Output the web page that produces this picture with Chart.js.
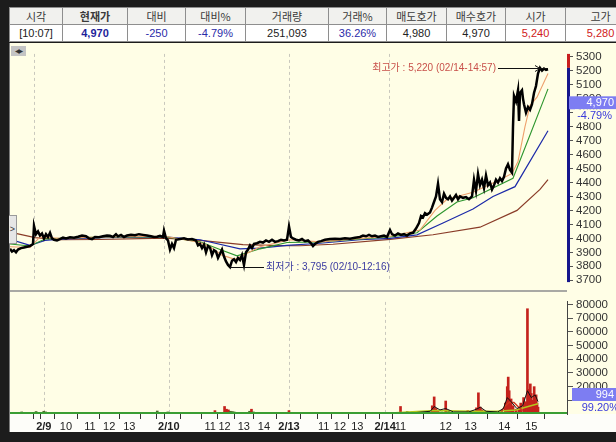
<!DOCTYPE html>
<html>
<head>
<meta charset="utf-8">
<script src="https://cdn.jsdelivr.net/npm/chart.js@4.4.1/dist/chart.umd.min.js"></script>
<style>
  html, body { margin: 0; padding: 0; }
  body { width: 616px; height: 442px; background: #1c1c1c; position: relative; overflow: hidden;
         font-family: "Liberation Sans", "Noto Sans CJK KR", sans-serif; }
  #quote { position: absolute; left: 9px; top: 7px; border-collapse: collapse; table-layout: fixed; width: 626px; }
  #quote td { border: 1px solid #8e8e8e; height: 16px; padding: 0; text-align: center; font-size: 11px;
              line-height: 16px; white-space: nowrap; overflow: hidden; }
  #quote tr.head td { background: #f1f1ee; color: #3a3a3a; font-family: "Noto Sans CJK KR", sans-serif; }
  #quote tr.vals td { background: #fff; color: #222; }
  #quote .bold { font-weight: bold; color: #222; }
  #quote .cur { font-weight: bold; color: #1e1e9a !important; }
  #quote .blue { color: #2a2aa8 !important; }
  #quote .red { color: #d02020 !important; }
  #panel { position: absolute; left: 9px; top: 43px; width: 607px; height: 389px; background: #fffee6;
           border-left: 1px solid #7a7a7a; box-sizing: border-box; }
  canvas { position: absolute; }
  #priceChart { left: 10px; top: 44px; }
  #volChart { left: 10px; top: 292px; }
  #sep { position: absolute; left: 10px; top: 290px; width: 557px; height: 2px; background: #a9a9a4; }
  #nav { position: absolute; left: 11px; top: 46px; width: 15px; height: 10px; background: #c4c4c4;
         font-family: "DejaVu Sans", sans-serif; font-size: 6px; line-height: 10px; color: #333; text-align: center; letter-spacing: -1px; }
  #tab { position: absolute; left: 9px; top: 215px; width: 7px; height: 27px; background: #e6e6e6;
         border: 1px solid #9a9a9a; border-left: none; font-size: 9px; line-height: 26px; color: #333; text-align: center; }
</style>
</head>
<body>
<table id="quote">
  <colgroup>
    <col style="width:53px"><col style="width:65px"><col style="width:58px"><col style="width:60px"><col style="width:83px">
    <col style="width:58px"><col style="width:60px"><col style="width:59px"><col style="width:60px"><col style="width:70px">
  </colgroup>
  <tr class="head">
    <td>시각</td><td class="bold">현재가</td><td>대비</td><td>대비%</td><td>거래량</td>
    <td>거래%</td><td>매도호가</td><td>매수호가</td><td>시가</td><td>고가</td>
  </tr>
  <tr class="vals">
    <td>[10:07]</td><td class="cur">4,970</td><td class="blue">-250</td><td class="blue">-4.79%</td><td>251,093</td>
    <td class="blue">36.26%</td><td>4,980</td><td>4,970</td><td class="red">5,240</td><td class="red">5,280</td>
  </tr>
</table>
<div id="panel"></div>
<canvas id="priceChart" width="606" height="248"></canvas>
<canvas id="volChart" width="606" height="140"></canvas>
<div id="sep"></div>
<div id="nav">◀▶</div>
<div id="tab">&gt;</div>

<script>
// DATA (bar index of the minute chart)
const priceBars = [
  0,2,4,6,8,11,14,17,20,23,
  24,26,28,30,32,34,36,38,40,42,
  44,47,50,53,56,60,64,68,72,76,
  79,82,85,89,93,97,100,103,106,108,
  111,114,117,121,125,129,133,137,141,144,
  147,150,153,154,156,158,160,162,164,166,
  170,174,178,182,186,188,190,192,194,196,
  198,200,202,204,206,208,210,212,214,216,
  218,220,222,224,226,228,230,232,234,236,
  238,240,242,244,247,250,253,256,259,262,
  265,268,271,274,277,279,281,283,286,289,
  292,295,298,301,303,305,308,311,315,320,
  325,330,335,340,345,350,353,356,359,362,
  365,368,371,374,377,380,382,385,388,391,
  394,397,400,403,406,409,411,413,415,417,
  420,422,424,426,428,430,432,434,436,438,
  440,442,444,446,448,450,453,456,459,462,
  464,466,468,470,472,474,476,478,480,482,
  484,486,488,490,492,494,496,498,500,501,
  502,503,504,506,508,509,510,512,513,514,
  516,518,520,522,524,526,528,530,532,534,
  536,538
];
const priceVals = [
  3925,3905,3915,3900,3920,3930,3935,3940,3945,3960,
  4090,4030,4050,4020,4035,4000,4030,4010,4040,4000,
  3990,3985,3995,4005,4000,4008,4005,4012,4020,4015,
  4000,3995,4010,4008,4015,4020,4018,4010,4030,4015,
  4025,4010,4020,4025,4022,4030,4025,4020,4015,4010,
  4012,4018,4010,4055,4000,3985,3920,3960,3930,3990,
  3995,4000,3992,3995,3985,3950,3960,3930,3955,3900,
  3945,3935,3880,3915,3905,3860,3890,3920,3870,3835,
  3810,3795,3840,3850,3830,3860,3845,3880,3810,3900,
  3920,3950,3930,3960,3965,3975,3970,3985,3975,3990,
  3975,3980,3990,3985,3990,4085,4010,4000,3990,3985,
  3995,3980,3985,3965,3945,3960,3975,3980,3990,3995,
  3998,3995,4000,3998,4005,4010,4020,4015,4025,4015,
  4020,4010,4015,4020,4010,4060,4030,4020,4035,4025,
  4030,4020,4035,4040,4070,4110,4160,4150,4180,4170,
  4185,4220,4260,4300,4390,4280,4260,4320,4290,4280,
  4300,4270,4290,4310,4280,4300,4290,4295,4280,4300,
  4420,4340,4460,4380,4420,4360,4450,4380,4400,4350,
  4380,4420,4400,4430,4410,4440,4500,4530,4490,4480,
  4470,4800,5020,4980,5060,4840,5040,5060,5000,4960,
  4900,4940,4920,4960,5040,5090,5180,5220,5200,5215,
  5205,5210
];

const ma5Bars = [0,20,30,50,90,155,190,200,212,225,250,280,310,350,380,410,425,437,463,490,502,508,515,520,527,538];
const ma5Vals = [3940,3935,4010,4000,4010,4015,3970,3940,3880,3850,3940,3990,3975,4000,4015,4060,4200,4280,4330,4420,4465,4550,4800,4950,5010,5180];
const ma10Bars = [0,20,35,50,90,155,190,210,227,250,277,310,350,380,407,427,447,463,503,520,538];
const ma10Vals = [3960,3945,3995,4000,4010,4012,3975,3920,3875,3925,3970,3975,3995,4010,4040,4160,4260,4290,4430,4740,5070];
const ma20Bars = [0,20,35,50,90,155,190,230,250,277,310,350,380,407,433,463,483,505,538];
const ma20Vals = [3993,3950,3985,3995,4005,4010,3990,3925,3930,3950,3965,3990,4000,4025,4110,4210,4300,4370,4770];
const ma60Bars = [0,25,50,90,130,155,190,233,270,290,323,380,423,470,507,530,538];
const ma60Vals = [4045,4005,3990,3992,3998,4002,3985,3955,3948,3947,3958,3993,4026,4080,4200,4350,4420];

const volBars = [
  1,3,9,16,18,24,26,32,38,45,
  52,65,85,100,115,138,142,148,153,160,
  170,185,200,202,212,214,216,218,220,222,
  225,230,238,240,242,255,265,270,275,279,
  285,300,320,340,360,385,395,402,408,415,
  422,428,430,432,434,438,442,445,450,455,
  460,465,468,474,476,478,480,485,490,495,
  500,504,506,507,508,510,512,515,518,520,
  523,525,527,528,530,531,533,534,536,537,
  538
];
const volVals = [
  1500,800,1200,1800,1000,2000,1500,600,500,700,
  500,400,500,600,400,1200,2200,800,1500,800,
  500,600,1200,2500,5500,3500,3000,2000,1800,1500,
  1200,1000,2000,3500,1500,600,1000,1200,800,2500,
  500,400,500,400,600,700,5500,1800,1500,1200,
  1000,6000,12500,4000,2500,1500,9500,2000,1200,1000,
  800,2500,1500,4500,15500,5000,3000,1500,1500,1200,
  2500,8000,20000,27000,17000,11000,6000,3500,4000,8000,
  12000,9000,77000,18000,22000,15000,10000,20000,14000,8000,
  5000
];
const volMaBars = [410,426,430,436,442,450,466,474,478,484,496,502,506,510,516,522,527,531,535,538];
const volMaVals = [1000,2000,5500,3000,4000,1500,1500,3500,5000,2000,1500,4000,12000,9000,4000,6000,17000,12000,14000,9000];
const volHumpBars = [500,504,508,513,518,522];
const volHumpVals = [2000,6000,8500,8500,5000,2500];
const volLongBars = [385,430,470,495,515,525,538];
const volLongVals = [800,2500,2000,2000,3000,5000,7500];

const priceTicks = [3700,3800,3900,4000,4100,4200,4300,4400,4500,4600,4700,4800,4900,5000,5100,5200,5300];
const volTicks = [10000,20000,30000,40000,50000,60000,70000,80000];
const tickBars = [17,24,47,72,92,113,137,145,154,178,197,212,232,253,279,303,315,332,350,367,379,395,442,468,503,531];
const tickLabels = ['','2/9','10','11','12','13','','','2/10','','11','12','13','14','2/13','','11','12','13','','2/14','11','12','13','14','15'];
const dayBars = [24,154,279,379];

const prevClose = 5220;
const curPrice = 4970;
const curRate = '-4.79%';
const lastVol = 994;
const volRate = '99.20%';
const highVal = 5220, highBar = 530, highTime = '02/14-14:57';
const lowVal = 3795, lowBar = 220, lowTime = '02/10-12:16';

const paneColor = '#fffee6';

function toPoints(bars, vals) {
  return bars.map((b, i) => ({ x: b, y: vals[i] }));
}
function fmt(n) {
  return n.toLocaleString('en-US');
}

// dashed separators at the start of every day
const dayLines = {
  id: 'dayLines',
  beforeDatasetsDraw(chart) {
    const { ctx, chartArea, scales } = chart;
    ctx.save();
    ctx.strokeStyle = '#c9c8bd';
    ctx.lineWidth = 1;
    ctx.setLineDash([3, 3]);
    dayBars.forEach(b => {
      const x = Math.round(scales.x.getPixelForValue(b)) + 0.5;
      ctx.beginPath();
      ctx.moveTo(x, chartArea.top);
      ctx.lineTo(x, chartArea.bottom);
      ctx.stroke();
    });
    ctx.restore();
  }
};

// axis colour bar, current price box, high / low notes
const priceDecor = {
  id: 'priceDecor',
  afterDraw(chart) {
    const { ctx, chartArea, scales } = chart;
    const y = scales.y, x = scales.x;
    ctx.save();
    const yPrev = y.getPixelForValue(prevClose);
    ctx.fillStyle = '#c81e1e';
    ctx.fillRect(chartArea.right, chartArea.top, 3, yPrev - chartArea.top);
    ctx.fillStyle = '#16168c';
    ctx.fillRect(chartArea.right, yPrev, 3, chartArea.bottom - yPrev);

    const yc = y.getPixelForValue(curPrice);
    ctx.fillStyle = '#7d7df2';
    ctx.fillRect(chartArea.right + 2, yc - 6.5, 60, 13);
    // rate sits on a plain patch, hiding the tick label under it
    ctx.fillStyle = paneColor;
    ctx.fillRect(chartArea.right + 8, yc + 6.5, 60, 13);
    ctx.font = '11px "Liberation Sans"';
    ctx.textAlign = 'right';
    ctx.textBaseline = 'middle';
    ctx.fillStyle = '#ffffff';
    ctx.fillText(fmt(curPrice), chart.width - 2, yc + 0.5);
    ctx.fillStyle = '#3a3adb';
    ctx.fillText(curRate, chart.width - 4, yc + 13);

    // highest
    const xh = x.getPixelForValue(highBar);
    const yh = Math.round(y.getPixelForValue(highVal)) + 0.5;
    ctx.strokeStyle = '#111';
    ctx.lineWidth = 1;
    ctx.beginPath();
    ctx.moveTo(xh - 42, yh);
    ctx.lineTo(xh + 8, yh);
    ctx.moveTo(xh - 5, yh - 3);
    ctx.lineTo(xh, yh);
    ctx.lineTo(xh - 5, yh + 3);
    ctx.stroke();
    ctx.font = '10px "Liberation Sans", "Noto Sans CJK KR"';
    ctx.fillStyle = '#c8504a';
    ctx.textAlign = 'right';
    ctx.fillText('최고가 : ' + fmt(highVal) + ' (' + highTime + ')', xh - 44, yh);

    // lowest
    const xl = x.getPixelForValue(lowBar);
    const yl = Math.round(y.getPixelForValue(lowVal)) + 0.5;
    ctx.beginPath();
    ctx.moveTo(xl, yl);
    ctx.lineTo(xl + 34, yl);
    ctx.stroke();
    ctx.fillStyle = '#3a3aa0';
    ctx.textAlign = 'left';
    ctx.fillText('최저가 : ' + fmt(lowVal) + ' (' + lowTime + ')', xl + 36, yl);
    ctx.restore();
  }
};

// white strip under the time axis, green base line, volume box
const volDecor = {
  id: 'volDecor',
  beforeDraw(chart) {
    const { ctx, chartArea } = chart;
    ctx.save();
    ctx.fillStyle = '#fdfdf9';
    ctx.fillRect(0, chartArea.bottom, chart.width, chart.height - chartArea.bottom);
    ctx.restore();
  },
  afterDatasetsDraw(chart) {
    const { ctx, chartArea } = chart;
    ctx.save();
    ctx.strokeStyle = '#3a9e34';
    ctx.lineWidth = 2;
    ctx.beginPath();
    ctx.moveTo(chartArea.left, chartArea.bottom - 1);
    ctx.lineTo(chartArea.right, chartArea.bottom - 1);
    ctx.stroke();
    ctx.restore();
  },
  afterDraw(chart) {
    const { ctx, chartArea } = chart;
    ctx.save();
    ctx.fillStyle = '#7d7df2';
    ctx.fillRect(chartArea.right + 5, chartArea.bottom - 26, 60, 13);
    ctx.fillStyle = paneColor;
    ctx.fillRect(chartArea.right + 8, chartArea.bottom - 13, 60, 12);
    ctx.font = '11px "Liberation Sans"';
    ctx.textAlign = 'right';
    ctx.textBaseline = 'middle';
    ctx.fillStyle = '#ffffff';
    ctx.fillText(String(lastVol), chart.width - 2, chartArea.bottom - 19);
    ctx.fillStyle = '#3a3adb';
    ctx.fillText(volRate, chart.width + 3, chartArea.bottom - 6);
    ctx.restore();
  }
};

const axisFont = { size: 11.5, family: 'Liberation Sans' };

//PRICE PANE
const priceChart = new Chart(document.getElementById('priceChart').getContext('2d'), {
  type: 'line',
  data: {
    datasets: [
      { data: toPoints(priceBars, priceVals), borderColor: '#000000', borderWidth: 2.5 },
      { data: toPoints(ma5Bars, ma5Vals), borderColor: '#eea06c', borderWidth: 1.1 },
      { data: toPoints(ma10Bars, ma10Vals), borderColor: '#2e962e', borderWidth: 1.1 },
      { data: toPoints(ma20Bars, ma20Vals), borderColor: '#1c2aa8', borderWidth: 1.2 },
      { data: toPoints(ma60Bars, ma60Vals), borderColor: '#8a3c28', borderWidth: 1.2 }
    ]
  },
  options: {
    responsive: false,
    animation: false,
    devicePixelRatio: 1,
    layout: { padding: 0 },
    elements: { point: { radius: 0 }, line: { tension: 0 } },
    plugins: { legend: { display: false }, tooltip: { enabled: false } },
    scales: {
      x: { type: 'linear', min: 0, max: 557, display: false },
      y: {
        position: 'right', min: 3687, max: 5320,
        afterFit: function(scale) { scale.width = 49; },
        afterBuildTicks: function(scale) { scale.ticks = priceTicks.map(v => ({ value: v })); },
        ticks: { autoSkip: false, color: '#333', font: axisFont, padding: 3, callback: v => String(v) },
        grid: { drawOnChartArea: false, tickLength: 6, color: '#555' },
        border: { display: false }
      }
    }
  },
  plugins: [dayLines, priceDecor]
});

//VOLUME PANE
const volChart = new Chart(document.getElementById('volChart').getContext('2d'), {
  type: 'bar',
  data: {
    datasets: [
      { type: 'line', data: toPoints(volMaBars, volMaVals), borderColor: '#111', borderWidth: 1 },
      { type: 'line', data: toPoints(volHumpBars, volHumpVals), borderColor: '#d23a1e', borderWidth: 1.5 },
      { type: 'line', data: toPoints(volLongBars, volLongVals), borderColor: '#b4c61c', borderWidth: 1.5 },
      {
        data: toPoints(volBars, volVals),
        backgroundColor: volVals.map(v => v >= 2500 ? '#c4221c' : '#4f6a2c'),
        barThickness: 2,
        grouped: false
      }
    ]
  },
  options: {
    responsive: false,
    animation: false,
    devicePixelRatio: 1,
    layout: { padding: 0 },
    elements: { point: { radius: 0 }, line: { tension: 0 } },
    plugins: { legend: { display: false }, tooltip: { enabled: false } },
    scales: {
      x: {
        type: 'linear', min: 0, max: 557,
        afterFit: function(scale) { scale.height = 18; },
        afterBuildTicks: function(scale) { scale.ticks = tickBars.map(v => ({ value: v })); },
        ticks: {
          autoSkip: false, maxRotation: 0, padding: 1, color: '#222',
          callback: (v, i) => tickLabels[i],
          font: function(c) {
            const lab = tickLabels[c.index] || '';
            return lab.indexOf('/') >= 0
              ? { size: 11, weight: 'bold', family: 'Liberation Sans' }
              : { size: 11, family: 'Liberation Sans' };
          }
        },
        grid: { drawOnChartArea: false, tickLength: 5, color: '#333' },
        border: { display: false }
      },
      y: {
        position: 'right', min: 0, max: 82000,
        afterFit: function(scale) { scale.width = 49; },
        afterBuildTicks: function(scale) { scale.ticks = volTicks.map(v => ({ value: v })); },
        ticks: { autoSkip: false, color: '#333', font: axisFont, padding: 3, callback: v => String(v) },
        grid: { drawOnChartArea: false, tickLength: 6, color: '#555' },
        border: { display: true, color: '#444', width: 1 }
      }
    }
  },
  plugins: [dayLines, volDecor]
});
</script>
</body>
</html>
